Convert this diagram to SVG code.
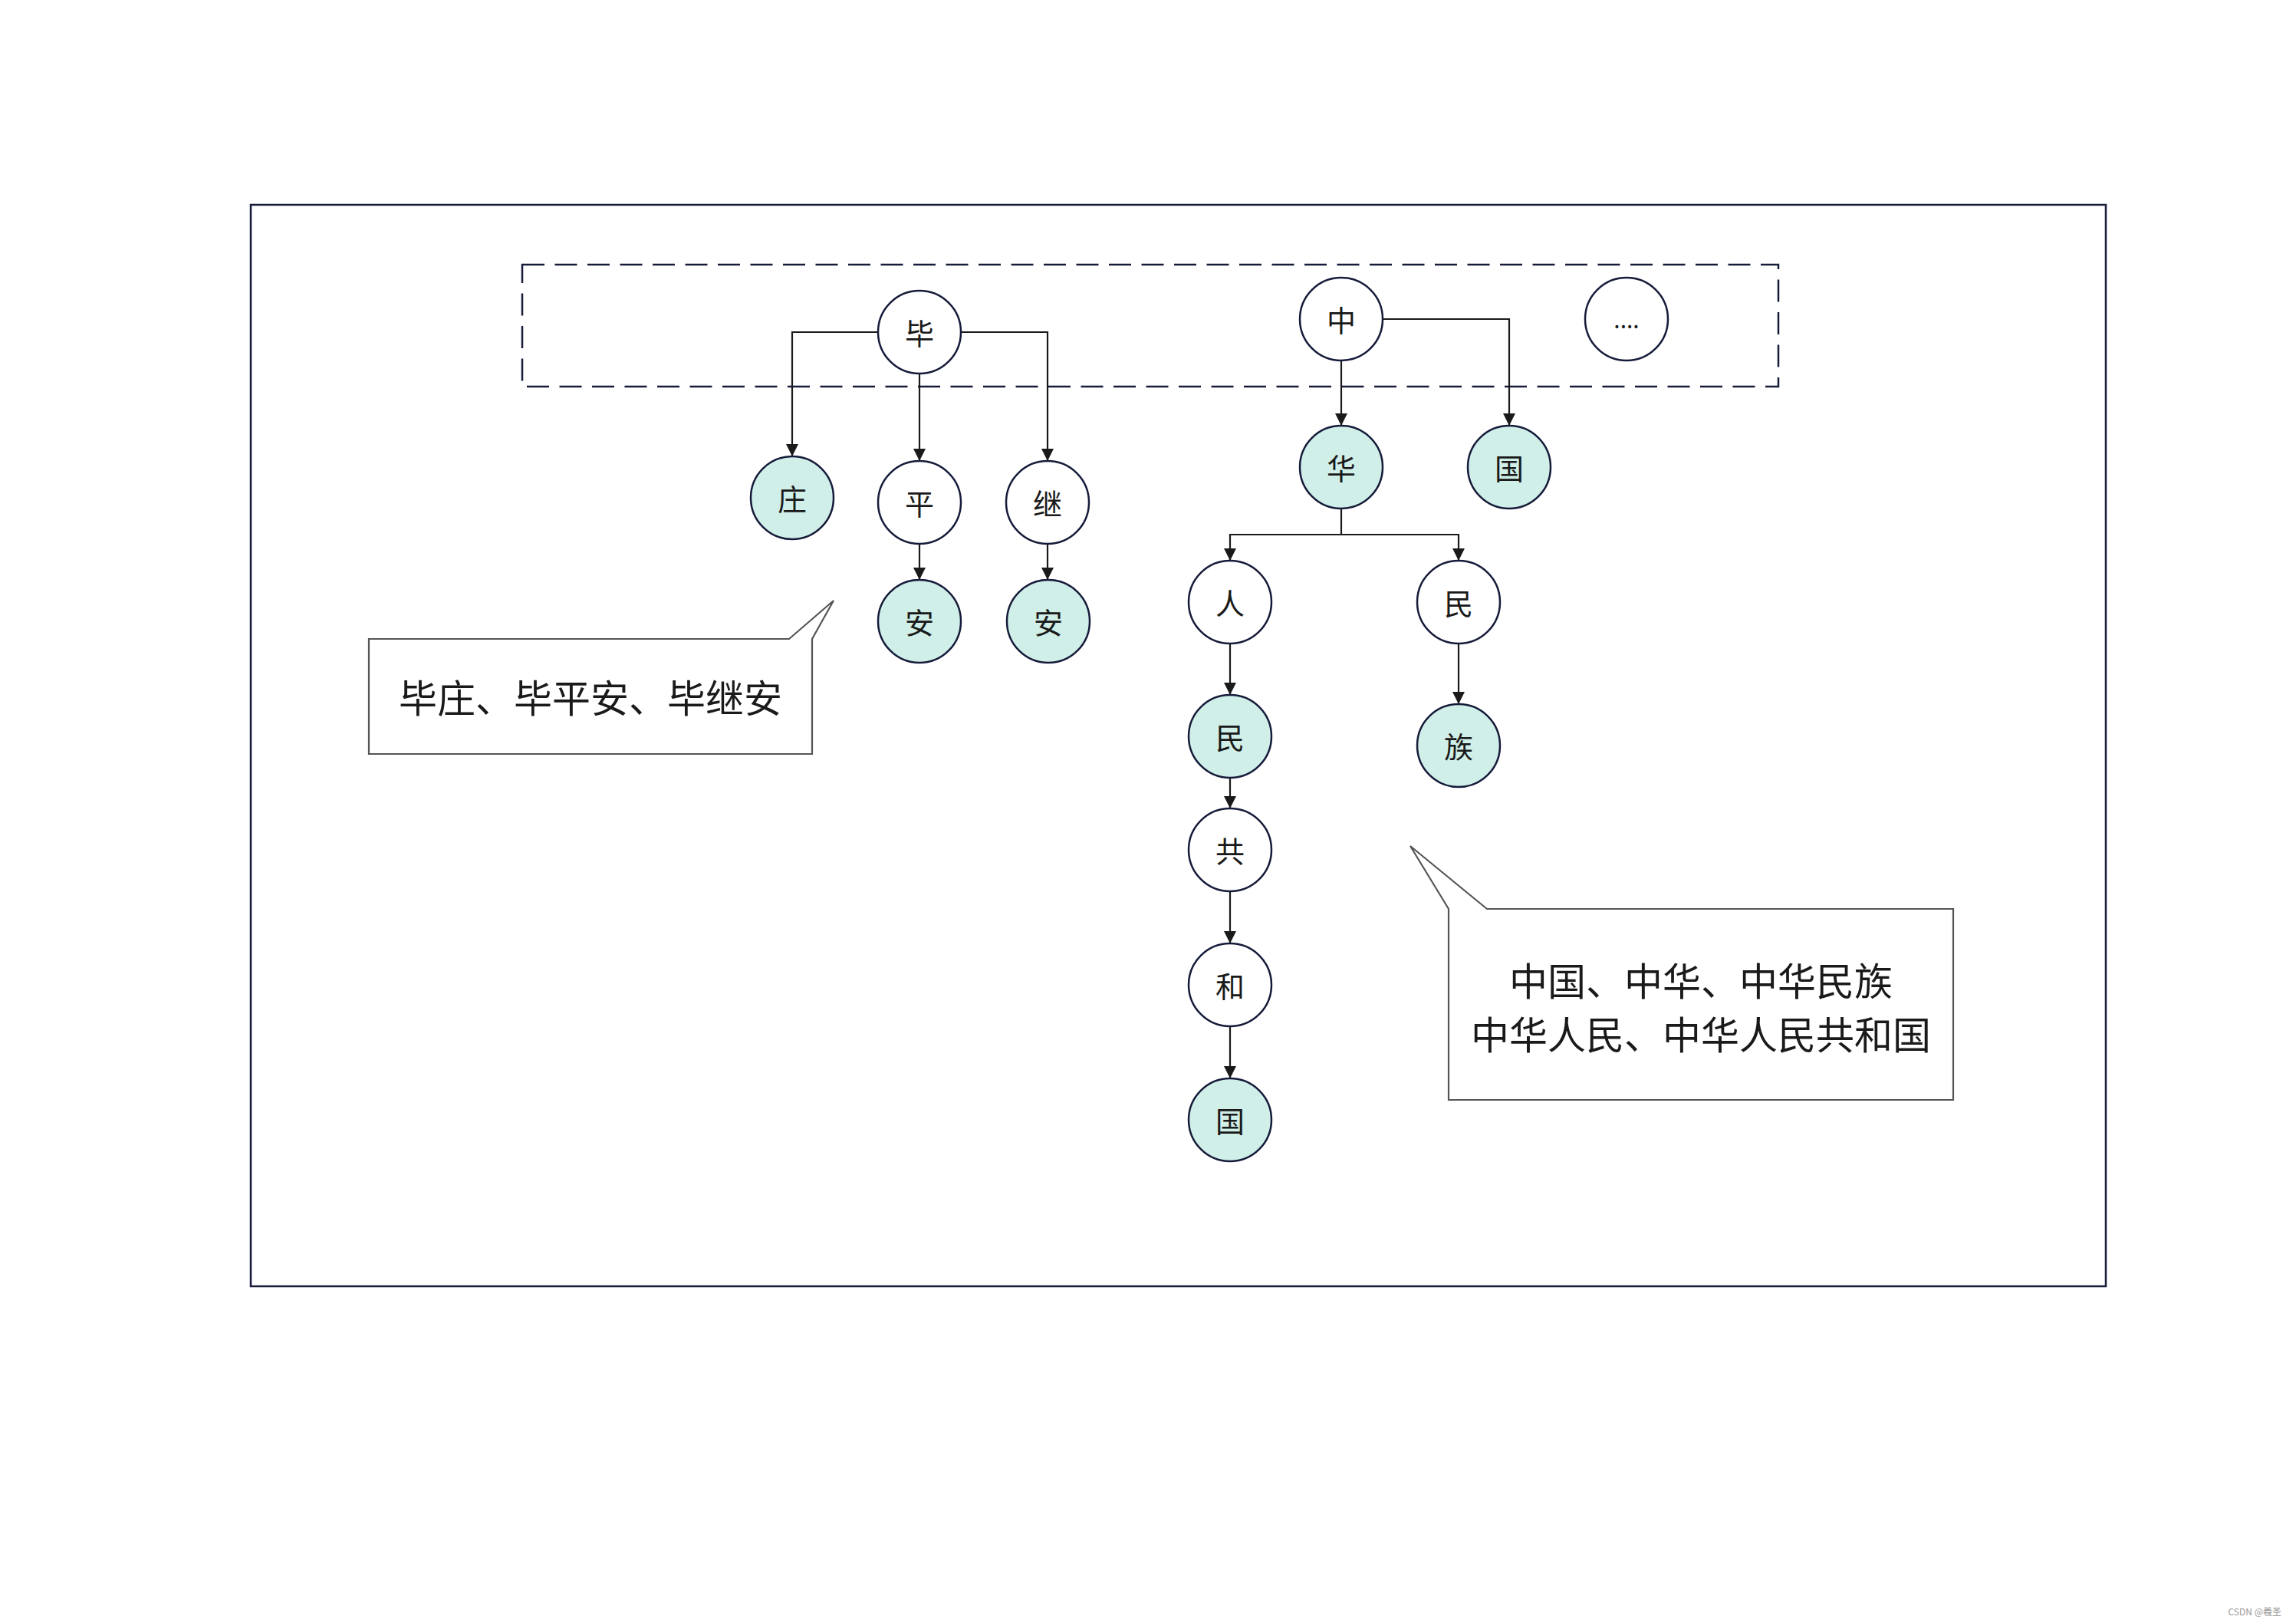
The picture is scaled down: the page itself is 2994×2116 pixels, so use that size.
<svg xmlns="http://www.w3.org/2000/svg" width="2994" height="2116" viewBox="0 0 2994 2116">
  <style>
    .node { stroke: #161b3a; stroke-width: 2.5; fill: #ffffff; }
    .hl { fill: #d0efe9; }
    .ntxt { font-family: "Noto Sans CJK SC", "Noto Sans", sans-serif; font-size: 38px; fill: #1a1a1a; text-anchor: middle; dominant-baseline: central; }
    .conn { fill: none; stroke: #1a1a1a; stroke-width: 2.2; }
    .callout { fill: #ffffff; stroke: #555555; stroke-width: 2.2; stroke-linejoin: miter; }
    .ctxt { font-family: "Noto Sans CJK SC", "Noto Sans", sans-serif; font-size: 50px; fill: #1a1a1a; text-anchor: middle; dominant-baseline: central; }
  </style>
  <defs>
    <marker id="arrow" markerUnits="userSpaceOnUse" markerWidth="16" markerHeight="16" refX="16" refY="8" orient="auto">
      <path d="M0,0 L16,8 L0,16 Z" fill="#1a1a1a"/>
    </marker>
  </defs>
  <rect x="0" y="0" width="2994" height="2116" fill="#ffffff"/>
  <rect id="frame" x="327" y="267" width="2419" height="1410" fill="none" stroke="#161b3a" stroke-width="2.5"/>
  <rect id="root-group" x="681" y="345" width="1638" height="159" fill="none" stroke="#161b3a" stroke-width="2.5" stroke-dasharray="29 13.5"/>

  <g id="connectors">
    <path class="conn" d="M1145,433 H1033 V595" marker-end="url(#arrow)"/>
    <path class="conn" d="M1199,487 V601" marker-end="url(#arrow)"/>
    <path class="conn" d="M1253,433 H1366 V601" marker-end="url(#arrow)"/>
    <path class="conn" d="M1199,709 V756" marker-end="url(#arrow)"/>
    <path class="conn" d="M1366,709 V756" marker-end="url(#arrow)"/>
    <path class="conn" d="M1749,470 V555" marker-end="url(#arrow)"/>
    <path class="conn" d="M1803,416 H1968 V555" marker-end="url(#arrow)"/>
    <path class="conn" d="M1749,663 V697 H1604 V731" marker-end="url(#arrow)"/>
    <path class="conn" d="M1749,697 H1902 V731" marker-end="url(#arrow)"/>
    <path class="conn" d="M1604,839 V906" marker-end="url(#arrow)"/>
    <path class="conn" d="M1902,839 V918" marker-end="url(#arrow)"/>
    <path class="conn" d="M1604,1014 V1054" marker-end="url(#arrow)"/>
    <path class="conn" d="M1604,1162 V1230" marker-end="url(#arrow)"/>
    <path class="conn" d="M1604,1338 V1406" marker-end="url(#arrow)"/>
  </g>

  <g id="n-bi"><circle class="node" cx="1199" cy="433" r="54"/><text class="ntxt" x="1199" y="432">毕</text></g>
  <g id="n-zhong"><circle class="node" cx="1749" cy="416" r="54"/><text class="ntxt" x="1749" y="415">中</text></g>
  <g id="n-more"><circle class="node" cx="2121" cy="416" r="54"/><text class="ntxt" x="2121" y="415" style="font-size:30px">....</text></g>
  <g id="n-zhuang"><circle class="node hl" cx="1033" cy="649" r="54"/><text class="ntxt" x="1033" y="648">庄</text></g>
  <g id="n-ping"><circle class="node" cx="1199" cy="655" r="54"/><text class="ntxt" x="1199" y="654">平</text></g>
  <g id="n-ji"><circle class="node" cx="1366" cy="655" r="54"/><text class="ntxt" x="1366" y="654">继</text></g>
  <g id="n-an1"><circle class="node hl" cx="1199" cy="810" r="54"/><text class="ntxt" x="1199" y="809">安</text></g>
  <g id="n-an2"><circle class="node hl" cx="1367" cy="810" r="54"/><text class="ntxt" x="1367" y="809">安</text></g>
  <g id="n-hua"><circle class="node hl" cx="1749" cy="609" r="54"/><text class="ntxt" x="1749" y="608">华</text></g>
  <g id="n-guo1"><circle class="node hl" cx="1968" cy="609" r="54"/><text class="ntxt" x="1968" y="608">国</text></g>
  <g id="n-ren"><circle class="node" cx="1604" cy="785" r="54"/><text class="ntxt" x="1604" y="784">人</text></g>
  <g id="n-min2"><circle class="node" cx="1902" cy="785" r="54"/><text class="ntxt" x="1902" y="784">民</text></g>
  <g id="n-min1"><circle class="node hl" cx="1604" cy="960" r="54"/><text class="ntxt" x="1604" y="959">民</text></g>
  <g id="n-zu"><circle class="node hl" cx="1902" cy="972" r="54"/><text class="ntxt" x="1902" y="971">族</text></g>
  <g id="n-gong"><circle class="node" cx="1604" cy="1108" r="54"/><text class="ntxt" x="1604" y="1107">共</text></g>
  <g id="n-he"><circle class="node" cx="1604" cy="1284" r="54"/><text class="ntxt" x="1604" y="1283">和</text></g>
  <g id="n-guo2"><circle class="node hl" cx="1604" cy="1460" r="54"/><text class="ntxt" x="1604" y="1459">国</text></g>

  <g id="callout-bi">
    <path class="callout" d="M481,833 H1029 L1087,783 L1059,833 V983 H481 Z"/>
    <text class="ctxt" x="770" y="907">毕庄、毕平安、毕继安</text>
  </g>
  <g id="callout-zhong">
    <path class="callout" d="M1889,1434 V1185 L1839,1103 L1939,1185 H2547 V1434 Z"/>
    <text class="ctxt" x="2218" y="1276">中国、中华、中华民族</text>
    <text class="ctxt" x="2218" y="1346">中华人民、中华人民共和国</text>
  </g>

  <text x="2975" y="2106" text-anchor="end" font-family="Noto Sans CJK SC, Noto Sans, sans-serif" font-size="12" fill="#999999">CSDN @羲圣</text>
</svg>
